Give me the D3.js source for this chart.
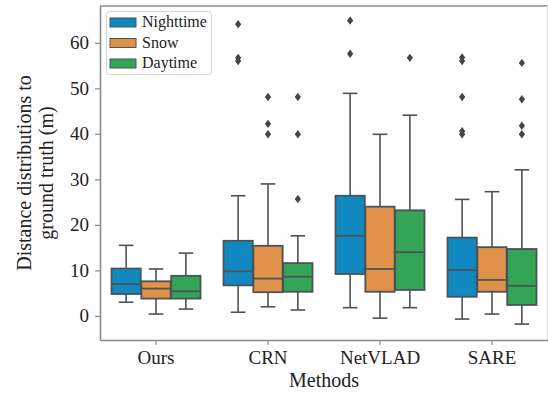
<!DOCTYPE html>
<html>
<head>
<meta charset="utf-8">
<script src="https://cdn.jsdelivr.net/npm/d3@7"></script>
<style>
  body { margin: 0; background: #fff; }
  svg text { font-family: "Liberation Serif", "Times New Roman", serif; }
</style>
</head>
<body>
<svg id="chart" width="548" height="393"></svg>
<script>
// categories & series
const methods = ['Ours', 'CRN', 'NetVLAD', 'SARE'];
const conditions = ['Nighttime', 'Snow', 'Daytime'];
const colors = ['#1189c0', '#e1924a', '#33a557'];
const yTicks = [0, 10, 20, 30, 40, 50, 60];

// box stats per condition, in method order
const whiskerLow = {
  Nighttime: [3.0, 0.8, 1.8, -0.7],
  Snow:      [0.4, 2.0, -0.5, 0.4],
  Daytime:   [1.5, 1.3, 1.8, -1.8]
};
const q1 = {
  Nighttime: [4.8, 6.7, 9.2, 4.2],
  Snow:      [3.8, 5.2, 5.3, 5.3],
  Daytime:   [3.8, 5.3, 5.7, 2.4]
};
const medians = {
  Nighttime: [7.0, 9.8, 17.6, 10.1],
  Snow:      [6.0, 8.2, 10.3, 7.9],
  Daytime:   [5.4, 8.6, 14.0, 6.6]
};
const q3 = {
  Nighttime: [10.4, 16.5, 26.4, 17.2],
  Snow:      [7.6, 15.4, 24.0, 15.1],
  Daytime:   [8.8, 11.6, 23.2, 14.7]
};
const whiskerHigh = {
  Nighttime: [15.5, 26.4, 48.9, 25.6],
  Snow:      [10.3, 29.0, 39.9, 27.3],
  Daytime:   [13.8, 17.6, 44.1, 32.1]
};
const outliers = {
  Nighttime: [[], [64.1, 56.0, 56.7], [64.9, 57.6], [56.0, 56.8, 48.1, 39.9, 40.6]],
  Snow:      [[], [48.1, 42.2, 39.9], [], []],
  Daytime:   [[], [48.1, 39.9, 25.7], [56.7], [55.6, 47.6, 41.8, 39.9]]
};

const margin = {top: 6, right: 0, bottom: 53, left: 100};
const width = 548, height = 393;
const serif = '"Liberation Serif", "Times New Roman", serif';
const svg = d3.select('#chart');

const x = d3.scaleBand()
  .domain(methods)
  .range([margin.left, width - margin.right])
  .paddingInner(0).paddingOuter(0);

const xSub = d3.scaleBand()
  .domain(conditions)
  .range([0, x.bandwidth() * 0.8]);

const y = d3.scaleLinear()
  .domain([-5.3, 68.1])
  .range([height - margin.bottom, margin.top]);

const lineColor = '#4a5357';

// boxes
conditions.forEach((cond, ci) => {
  const g = svg.append('g');
  methods.forEach((m, mi) => {
    const x0 = x(m) + x.bandwidth() * 0.1 + xSub(cond);
    const bw = xSub.bandwidth() * 0.98;
    const bx = x0 + (xSub.bandwidth() - bw) / 2;
    const cx = x0 + xSub.bandwidth() / 2;
    const cap = bw / 4;

    // whiskers
    g.append('line')
      .attr('x1', cx).attr('x2', cx)
      .attr('y1', y(whiskerLow[cond][mi])).attr('y2', y(q1[cond][mi]))
      .attr('stroke', lineColor).attr('stroke-width', 1.6);
    g.append('line')
      .attr('x1', cx).attr('x2', cx)
      .attr('y1', y(q3[cond][mi])).attr('y2', y(whiskerHigh[cond][mi]))
      .attr('stroke', lineColor).attr('stroke-width', 1.6);
    [whiskerLow[cond][mi], whiskerHigh[cond][mi]].forEach(v => {
      g.append('line')
        .attr('x1', cx - cap).attr('x2', cx + cap)
        .attr('y1', y(v)).attr('y2', y(v))
        .attr('stroke', lineColor).attr('stroke-width', 1.6);
    });

    // box
    g.append('rect')
      .attr('x', bx)
      .attr('y', y(q3[cond][mi]))
      .attr('width', bw)
      .attr('height', y(q1[cond][mi]) - y(q3[cond][mi]))
      .attr('fill', colors[ci])
      .attr('stroke', lineColor).attr('stroke-width', 1.8);

    // median
    g.append('line')
      .attr('x1', bx).attr('x2', bx + bw)
      .attr('y1', y(medians[cond][mi])).attr('y2', y(medians[cond][mi]))
      .attr('stroke', lineColor).attr('stroke-width', 1.8);

    // fliers
    g.selectAll(null)
      .data(outliers[cond][mi])
      .join('path')
      .attr('d', 'M0,-4.2L3.1,0L0,4.2L-3.1,0Z')
      .attr('transform', d => `translate(${cx},${y(d)})`)
      .attr('fill', '#3d474c');
  });
});

// frame
const x0 = margin.left, x1 = width - 0.5, yT = margin.top, yB = height - margin.bottom;
svg.append('line').attr('x1', x0).attr('x2', x1).attr('y1', yT).attr('y2', yT)
  .attr('stroke', '#555').attr('stroke-width', 1.2);
svg.append('line').attr('x1', x1).attr('x2', x1).attr('y1', yT).attr('y2', yB)
  .attr('stroke', '#ddd').attr('stroke-width', 1);

// axes
const yAxis = svg.append('g')
  .attr('transform', `translate(${margin.left},0)`)
  .call(d3.axisLeft(y).tickValues(yTicks).tickSize(5).tickPadding(6).tickSizeOuter(0));
const xAxis = svg.append('g')
  .attr('transform', `translate(0,${height - margin.bottom})`)
  .call(d3.axisBottom(x).tickSize(5).tickPadding(6).tickSizeOuter(0));

[yAxis, xAxis].forEach(ax => {
  ax.attr('font-family', null).attr('font-size', null);
  ax.select('.domain').attr('stroke', '#8a8a8a').attr('stroke-width', 1.6);
  ax.selectAll('.tick line').attr('stroke', '#8a8a8a').attr('stroke-width', 1.2);
  ax.selectAll('.tick text')
    .attr('fill', '#222')
    .style('font-family', serif)
    .style('font-size', '19px');
});

// axis titles
svg.append('text')
  .attr('x', (margin.left + width) / 2)
  .attr('y', 387)
  .attr('text-anchor', 'middle')
  .attr('fill', '#222')
  .style('font-family', serif)
  .style('font-size', '20px')
  .text('Methods');

const yTitle = svg.append('text')
  .attr('transform', `translate(31,${(margin.top + height - margin.bottom) / 2}) rotate(-90)`)
  .attr('text-anchor', 'middle')
  .attr('fill', '#222')
  .style('font-family', serif)
  .style('font-size', '20px');
yTitle.append('tspan').attr('x', 0).attr('dy', 0).text('Distance distributions to');
yTitle.append('tspan').attr('x', 0).attr('dy', 22).text('ground truth (m)');

// legend
const legend = svg.append('g');
legend.append('rect')
  .attr('x', 106.5).attr('y', 11.5)
  .attr('width', 105).attr('height', 63)
  .attr('rx', 3)
  .attr('fill', '#fff').attr('fill-opacity', 0.85)
  .attr('stroke', '#d5d5d5');
conditions.forEach((c, i) => {
  const ly = 18 + i * 20.5;
  legend.append('rect')
    .attr('x', 110).attr('y', ly)
    .attr('width', 26).attr('height', 9)
    .attr('fill', colors[i])
    .attr('stroke', lineColor).attr('stroke-width', 1);
  legend.append('text')
    .attr('x', 142).attr('y', ly + 9)
    .attr('fill', '#222')
    .style('font-family', serif)
    .style('font-size', '16px')
    .text(c);
});
</script>
</body>
</html>
